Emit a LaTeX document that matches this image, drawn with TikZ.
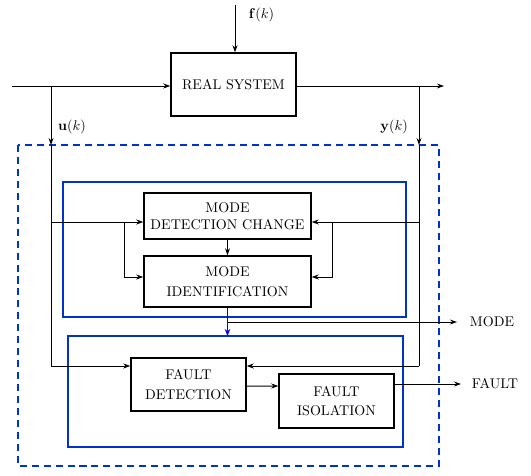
\documentclass[tikz,border=0pt]{standalone}
\usetikzlibrary{calc,arrows.meta}
\definecolor{boxblue}{RGB}{0,51,204}
\tikzset{
  block/.style={draw, line width=0.9pt, align=center, inner sep=1pt},
  sig/.style={line width=0.7pt},
  sigarr/.style={line width=0.7pt, -{Stealth[length=5pt,width=3.5pt]}},
  group/.style={draw=boxblue, line width=1.6pt},
}

\begin{document}
\begin{tikzpicture}[x=0.025cm, y=-0.025cm]
		%%%%% START %%%%%
		\useasboundingbox (0,0) rectangle (531,475);
		
		% plant
		\node[block, minimum width=3.125cm, minimum height=1.575cm] (plant) at (233.5,84.5) {REAL SYSTEM};
		\coordinate (ftop) at (235,5);
		\coordinate (in) at (12,86);
		\coordinate (uj) at (51,86);
		\coordinate (yj) at (419,86);
		\coordinate (out) at (444,86);
		
		\draw[sigarr] (ftop) -- (ftop |- plant.north);
		\node[anchor=west] (flab) at (244,15) {$\mathbf{f}(k)$};
		\draw[sigarr] (in) -- (in -| plant.west);
		\draw[sigarr] (out -| plant.east) -- (out);
		
		% supervision (dashed)
		\draw[boxblue, line width=1.6pt, dash pattern=on 5pt off 3.5pt] (18,145) rectangle (439,466);
		\draw[group] (63,182) rectangle (406,317);
		\draw[group] (68,336) rectangle (403,447);
		
		\node[block, minimum width=4.175cm, minimum height=1.15cm] (mdc) at (227.5,216) {MODE\\DETECTION CHANGE};
		\node[block, minimum width=4.175cm, minimum height=1.275cm] (mi) at (227.5,281.5) {MODE\\[2pt]IDENTIFICATION};
		\node[block, minimum width=2.875cm, minimum height=1.325cm] (fd) at (188.5,384.5) {FAULT\\[2pt]DETECTION};
		\node[block, minimum width=2.875cm, minimum height=1.35cm] (fi) at (336.5,401) {FAULT\\[2pt]ISOLATION};
		
		\coordinate (ua) at (51,145);
		\coordinate (ya) at (419,145);
		\coordinate (ub) at (51,222);
		\coordinate (yb) at (419,222);
		\coordinate (ul) at (124,222);
		\coordinate (yr) at (332,222);
		\coordinate (uc) at (51,366);
		\coordinate (yc) at (419,366);
		\coordinate (mo) at (457,322);
		\coordinate (fo) at (461,384);
		\coordinate (ftop2) at (224,336);
		
		% u(k) and y(k) branches
		\draw[sigarr] (uj) -- (ua);
		\draw[sigarr] (yj) -- (ya);
		\node (ulab) at (72,127) {$\mathbf{u}(k)$};
		\node (ylab) at (394,127) {$\mathbf{y}(k)$};
		\draw[sig] (ua) -- (uc);
		\draw[sig] (ya) -- (yc);
		
		% mode part
		\draw[sigarr] (ub) -- (ub -| mdc.west);
		\draw[sigarr] (yb) -- (yb -| mdc.east);
		\draw[sigarr] (ul) |- ($(mi.west)+(0,-4.5)$);
		\draw[sigarr] (yr) |- ($(mi.east)+(0,-4.5)$);
		\draw[sigarr] (mdc.south) -- (mi.north);
		\draw[blue, line width=1.3pt, -{Stealth[length=5pt,width=4pt]}] (mi.south) -- (mi.south |- ftop2);
		\draw[sigarr] (mi.south |- mo) -- (mo);
		\node[anchor=west] (mlab) at (465,322) {MODE};
		
		% fault part
		\draw[sigarr] (uc) -- (uc -| fd.west);
		\draw[sigarr] (yc) -- (yc -| fd.east);
		\draw[sigarr] ($(fd.east)+(0,1.5)$) -- ($(fi.west)+(0,-15)$);
		\draw[sigarr] ($(fi.east)+(0,-17)$) -- (fo);
		\node[anchor=west] (flab2) at (467,384) {FAULT};
		
		%%%%% END %%%%%
	\end{tikzpicture}
\end{document}
